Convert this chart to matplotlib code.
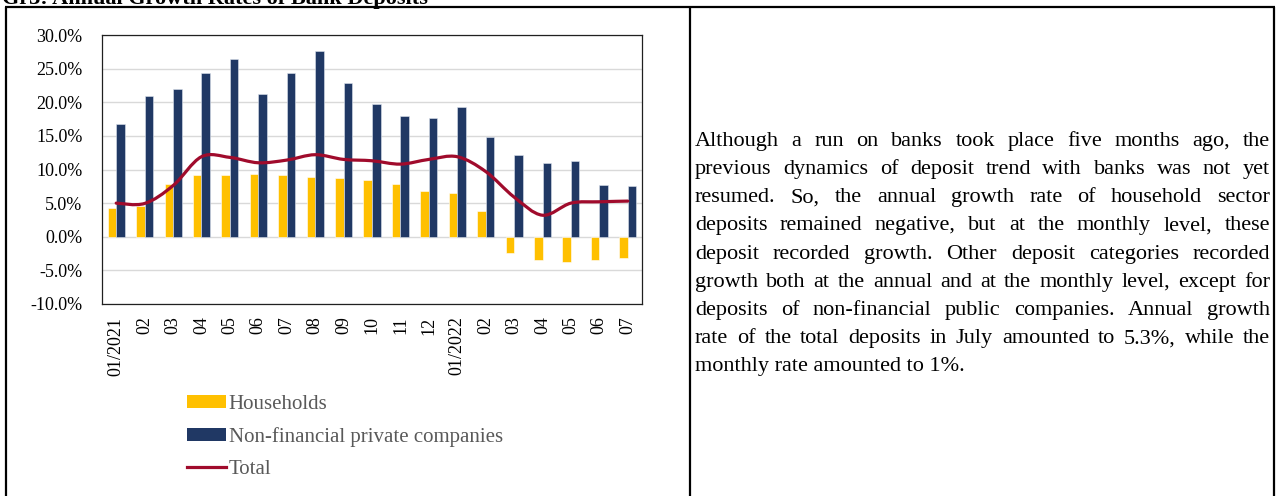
import matplotlib
matplotlib.use('Agg')
import matplotlib.pyplot as plt
import numpy as np
from matplotlib.path import Path
from matplotlib.patches import PathPatch, Patch
from matplotlib.lines import Line2D

plt.rcParams['font.family'] = ['Liberation Serif', 'DejaVu Serif']

months = ['01/2021', '02', '03', '04', '05', '06', '07', '08', '09', '10', '11', '12',
          '01/2022', '02', '03', '04', '05', '06', '07']
households = [4.3, 4.6, 7.9, 9.2, 9.2, 9.4, 9.2, 8.9, 8.7, 8.5, 7.9, 6.8,
              6.5, 3.8, -2.4, -3.5, -3.7, -3.5, -3.1]
nonfin_private = [16.8, 20.9, 22.0, 24.4, 26.5, 21.3, 24.3, 27.6, 22.8, 19.7, 17.9, 17.6,
                  19.3, 14.9, 12.1, 10.9, 11.2, 7.7, 7.5]
total = [5.0, 4.95, 7.6, 11.9, 11.8, 11.0, 11.4, 12.2, 11.5, 11.3, 10.8, 11.5,
         11.9, 9.7, 5.9, 3.2, 5.0, 5.2, 5.3]

title = 'Gr3: Annual Growth Rates of Bank Deposits'
para_lines = [
    'Although a run on banks took place five months ago, the',
    'previous dynamics of deposit trend with banks was not yet',
    'resumed. So, the annual growth rate of household sector',
    'deposits remained negative, but at the monthly level, these',
    'deposit recorded growth. Other deposit categories recorded',
    'growth both at the annual and at the monthly level, except for',
    'deposits of non-financial public companies. Annual growth',
    'rate of the total deposits in July amounted to 5.3%, while the',
    'monthly rate amounted to 1%.',
]

YELLOW = '#FFC000'
NAVY = '#203864'
RED = '#A00B2C'
W, H = 1276, 496

fig = plt.figure(figsize=(W / 100, H / 100), dpi=100)

# overlay in pixel coordinates for the table frame and paragraph
ov = fig.add_axes([0, 0, 1, 1], zorder=0)
ov.set_xlim(0, W)
ov.set_ylim(H, 0)
ov.axis('off')
ov.patch.set_visible(False)
for xs, ys in [([5, 1275], [7, 7]), ([6, 6], [7, H]), ([690, 690], [7, H]), ([1274, 1274], [7, H])]:
    ov.plot(xs, ys, color='black', lw=1.6, solid_capstyle='butt')
ov.text(2, 4, title, fontsize=16, fontweight='bold', va='baseline', ha='left')

# chart
ax = fig.add_axes([102 / W, 1 - 304 / H, 540 / W, 269 / H], zorder=1)
x = np.arange(len(months))
bw = 0.3
ax.bar(x - bw / 2, households, bw, color=YELLOW, edgecolor='white', linewidth=0.4, zorder=2)
ax.bar(x + bw / 2, nonfin_private, bw, color=NAVY, edgecolor='#DDE3EE', linewidth=0.4, zorder=2)

# smoothed total line (Excel-style Bezier through the points)
pts = np.column_stack([x, total]).astype(float)
verts = [pts[0]]
codes = [Path.MOVETO]
n = len(pts)
for i in range(n - 1):
    p0 = pts[max(i - 1, 0)]
    p1 = pts[i]
    p2 = pts[i + 1]
    p3 = pts[min(i + 2, n - 1)]
    c1 = p1 + (p2 - p0) / 6.0
    c2 = p2 - (p3 - p1) / 6.0
    verts += [c1, c2, p2]
    codes += [Path.CURVE4] * 3
ax.add_patch(PathPatch(Path(verts, codes), facecolor='none', edgecolor=RED, lw=2.3,
                       zorder=3, capstyle='round'))

ax.set_xlim(-0.5, len(months) - 0.5)
ax.set_ylim(-10, 30)
ax.set_yticks(np.arange(-10, 31, 5))
ax.set_yticklabels([f'{v:.1f}%' for v in np.arange(-10, 31, 5)])
ax.set_xticks(x)
ax.set_xticklabels(months, rotation=90, va='top', ha='center')
ax.tick_params(axis='both', length=0, labelsize=13, colors='black')
ax.tick_params(axis='y', pad=14)
ax.tick_params(axis='x', pad=9)
ax.grid(axis='y', color='#D9D9D9', lw=1.0, zorder=0)
ax.set_axisbelow(True)
for s in ax.spines.values():
    s.set_color('#202020')
    s.set_linewidth(0.9)

handles = [Patch(facecolor=YELLOW, edgecolor='none'),
           Patch(facecolor=NAVY, edgecolor='none'),
           Line2D([], [], color=RED, lw=2.3)]
labels = ['Households', 'Non-financial private companies', 'Total']
fig.legend(handles, labels, loc='upper left', bbox_to_anchor=(187 / W, 1 - 395 / H),
           frameon=False, fontsize=15, borderpad=0, borderaxespad=0,
           handlelength=1.85, handletextpad=0.15, handleheight=0.55,
           labelspacing=0.62, labelcolor='#595959')

# justified paragraph
renderer = fig.canvas.get_renderer()
left, right = 695, 1270
y0, dy = 141.5, 28.15
for k, line in enumerate(para_lines):
    y = y0 + k * dy
    if k == len(para_lines) - 1:
        ov.text(left, y, line, fontsize=16, va='center', ha='left')
        continue
    words = line.split(' ')
    ts = [ov.text(0, y, w, fontsize=16, va='center', ha='left') for w in words]
    widths = [t.get_window_extent(renderer).width for t in ts]
    gap = (right - left - sum(widths)) / (len(words) - 1)
    cx = left
    for t, wd in zip(ts, widths):
        t.set_x(cx)
        cx += wd + gap

fig.savefig('out.png', dpi=100)
